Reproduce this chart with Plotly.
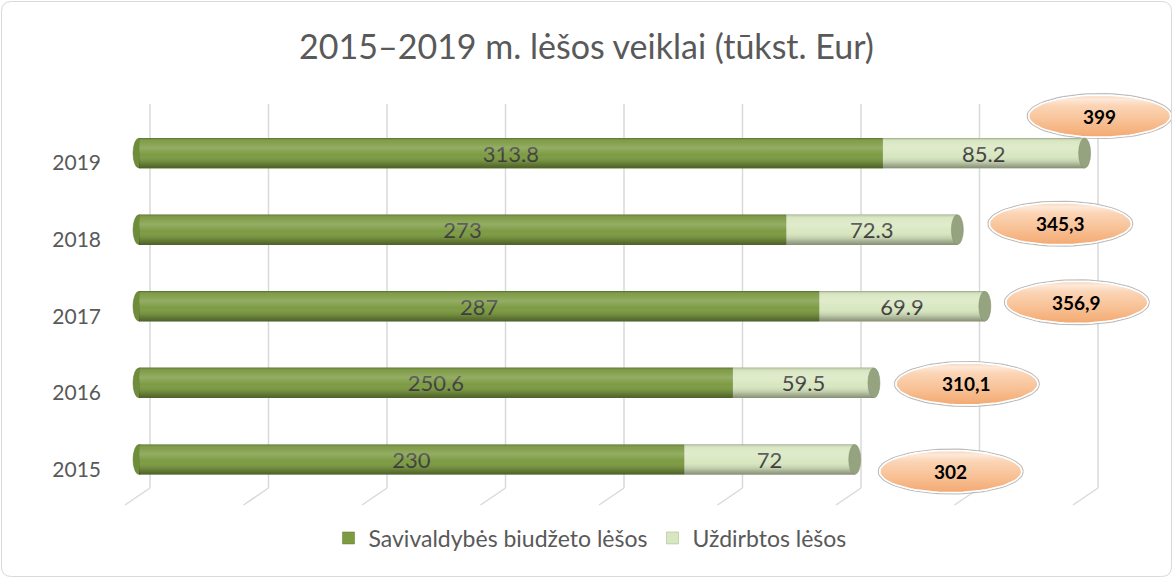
import math
import plotly.graph_objects as go

# ---- data ----
years = ["2015", "2016", "2017", "2018", "2019"]
budget = [230, 250.6, 287, 273, 313.8]        # Savivaldybės biudžeto lėšos
earned = [72, 59.5, 69.9, 72.3, 85.2]         # Uždirbtos lėšos
series_names = ["Savivaldybės biudžeto lėšos", "Uždirbtos lėšos"]
grid_ticks = [0, 50, 100, 150, 200, 250, 300, 350, 400]

totals = [round(a + b, 1) for a, b in zip(budget, earned)]
total_labels = [(f"{t:.1f}".rstrip("0").rstrip(".")).replace(".", ",") for t in totals]
ypos = list(range(len(years)))

def fmt(v):
    return f"{v:g}"

# ---- layout geometry (pixels) ----
W, H = 1173, 578
ZERO_PX = 139          # pixel x of value 0
PXX = 2.37             # pixels per unit on x
Y0_PX = 459.5          # pixel y of first category
PXY = 76.6             # pixels per category
ML, MR, MT, MB = 120, 2, 85, 80
PW, PH = W - ML - MR, H - MT - MB
XR = [-(ZERO_PX - ML) / PXX, (W - MR - ZERO_PX) / PXX]
YR = [-(H - MB - Y0_PX) / PXY, (Y0_PX - MT) / PXY]
BARW = 0.39
HALF = BARW / 2

def px2paper(px, py):
    return (px - ML) / PW, (H - MB - py) / PH

# oval label offsets (pixels from the end of each bar), per year
oval_dx = [96, 93, 92, 103, 15]
oval_dy = [-12, -1, 4, 6, 37]
OVAL_RX, OVAL_RY = 71, 21

GREEN = "#7D9B43"
LIGHT = "#D9E7C1"
TXT = "#595959"
FONT = "Lato"

fig = go.Figure()
fig.add_trace(go.Bar(
    y=ypos, x=budget, orientation="h", name=series_names[0], width=BARW,
    marker=dict(color=GREEN, line=dict(color="#5F7B2F", width=0.5)),
    text=[fmt(v) for v in budget], textposition="inside", insidetextanchor="middle",
    textangle=0, textfont=dict(color="#404040", size=22, family=FONT),
    constraintext="none", hoverinfo="x+name",
))
fig.add_trace(go.Bar(
    y=ypos, x=earned, orientation="h", name=series_names[1], width=BARW,
    marker=dict(color=LIGHT, line=dict(color="#A3B38A", width=0.5)),
    text=[fmt(v) for v in earned], textposition="inside", insidetextanchor="middle",
    textangle=0, textfont=dict(color="#404040", size=22, family=FONT),
    constraintext="none", hoverinfo="x+name",
))

# cylinder shading overlay (one polygon per bar, spanning the whole stack)
shade_scale = [
    [0.0, "rgba(0,0,0,0.38)"],
    [0.2, "rgba(0,0,0,0.12)"],
    [0.45, "rgba(255,255,255,0.0)"],
    [0.68, "rgba(255,255,255,0.18)"],
    [0.88, "rgba(255,255,255,0.04)"],
    [1.0, "rgba(0,0,0,0.18)"],
]
for i, t in enumerate(totals):
    fig.add_trace(go.Scatter(
        x=[0, t, t, 0, 0], y=[i - HALF, i - HALF, i + HALF, i + HALF, i - HALF],
        mode="lines", line=dict(width=0), fill="toself",
        fillgradient=dict(type="vertical", colorscale=shade_scale,
                          start=i - HALF, stop=i + HALF),
        showlegend=False, hoverinfo="skip",
    ))

# ovals for totals (gradient-filled ellipses)
oval_scale = [
    [0.0, "#F3A971"],
    [0.4, "#F8C297"],
    [0.75, "#FBD5B6"],
    [0.9, "#FDE9D9"],
    [1.0, "#F8D3B6"],
]
N = 72
for i, t in enumerate(totals):
    cx = t + oval_dx[i] / PXX
    cy = i + oval_dy[i] / PXY
    ex = [cx + (OVAL_RX + 1.5) / PXX * math.cos(2 * math.pi * k / N) for k in range(N + 1)]
    ey = [cy + (OVAL_RY + 1.5) / PXY * math.sin(2 * math.pi * k / N) for k in range(N + 1)]
    fig.add_trace(go.Scatter(x=ex, y=ey, mode="lines",
                             line=dict(color="#BDBDBD", width=1.2),
                             showlegend=False, hoverinfo="skip"))
    ix = [cx + OVAL_RX / PXX * math.cos(2 * math.pi * k / N) for k in range(N + 1)]
    iy = [cy + OVAL_RY / PXY * math.sin(2 * math.pi * k / N) for k in range(N + 1)]
    fig.add_trace(go.Scatter(x=ix, y=iy, mode="lines", fill="toself",
                             line=dict(color="#FFFFFF", width=1.5),
                             fillgradient=dict(type="vertical", colorscale=oval_scale,
                                               start=cy - OVAL_RY / PXY,
                                               stop=cy + OVAL_RY / PXY),
                             showlegend=False, hoverinfo="skip"))

shapes = []
# back gridlines and floor diagonals
_, gy_top = px2paper(0, 104)
_, gy_bot = px2paper(0, 488)
_, gy_front = px2paper(0, 505)
for t in grid_ticks:
    shapes.append(dict(type="line", xref="x", xsizemode="pixel", xanchor=t,
                       x0=11, x1=11, yref="paper", y0=gy_bot, y1=gy_top,
                       line=dict(color="#D9D9D9", width=1.5), layer="below"))
    shapes.append(dict(type="line", xref="x", xsizemode="pixel", xanchor=t,
                       x0=11, x1=-14, yref="paper", y0=gy_bot, y1=gy_front,
                       line=dict(color="#D9D9D9", width=1.5), layer="below"))

# cylinder end caps
for i, t in enumerate(totals):
    shapes.append(dict(type="circle", xref="x", xsizemode="pixel", xanchor=t,
                       x0=-6, x1=6, yref="y", y0=i - HALF, y1=i + HALF,
                       fillcolor="#95A37F", line=dict(color="#7F8E6A", width=0.5),
                       layer="above"))
    shapes.append(dict(type="circle", xref="x", xsizemode="pixel", xanchor=0,
                       x0=-6, x1=6, yref="y", y0=i - HALF, y1=i + HALF,
                       fillcolor="#6F8C3A", line=dict(color="#5F7B2F", width=0.5),
                       layer="below"))

# rounded outer border
r = 10
x0p, y0p, x1p, y1p = 1.5, 1.5, W - 1.5, H - 1.5
def P(px, py):
    a, b = px2paper(px, py)
    return f"{a:.5f},{b:.5f}"
path = (f"M {P(x0p + r, y0p)} L {P(x1p - r, y0p)} Q {P(x1p, y0p)} {P(x1p, y0p + r)} "
        f"L {P(x1p, y1p - r)} Q {P(x1p, y1p)} {P(x1p - r, y1p)} "
        f"L {P(x0p + r, y1p)} Q {P(x0p, y1p)} {P(x0p, y1p - r)} "
        f"L {P(x0p, y0p + r)} Q {P(x0p, y0p)} {P(x0p + r, y0p)} Z")
shapes.append(dict(type="path", xref="paper", yref="paper", path=path,
                   line=dict(color="#D9D9D9", width=1), layer="below"))

annotations = []
for i, t in enumerate(totals):
    annotations.append(dict(x=t, y=i, xref="x", yref="y",
                            text=f"<b>{total_labels[i]}</b>", showarrow=False,
                            xshift=oval_dx[i], yshift=oval_dy[i],
                            font=dict(color="#000000", size=19, family=FONT)))

lx, ly = px2paper(590, 538)
fig.update_layout(
    width=W, height=H,
    margin=dict(l=ML, r=MR, t=MT, b=MB, autoexpand=False),
    paper_bgcolor="white", plot_bgcolor="rgba(0,0,0,0)",
    barmode="stack", barcornerradius=0,
    title=dict(text="2015–2019 m. lėšos veiklai (tūkst. Eur)", x=0.5, xanchor="center",
               y=1 - 47 / H, yanchor="middle", yref="container",
               font=dict(family=FONT, size=34, color=TXT)),
    xaxis=dict(range=XR, showgrid=False, zeroline=False, showticklabels=False,
               showline=False, ticks=""),
    yaxis=dict(range=YR, tickmode="array", tickvals=ypos, ticktext=years,
               showgrid=False, zeroline=False, showline=False,
               ticks="", ticklabelstandoff=18, ticklabelshift=10,
               tickfont=dict(family=FONT, size=21, color=TXT)),
    legend=dict(orientation="h", x=lx, xanchor="center",
                y=ly, yanchor="middle",
                font=dict(family=FONT, size=23, color=TXT), traceorder="normal"),
    shapes=shapes, annotations=annotations,
    showlegend=True,
)

fig.write_html("out.html", config={"displayModeBar": False},
               post_script="document.body.style.margin='0px';")
